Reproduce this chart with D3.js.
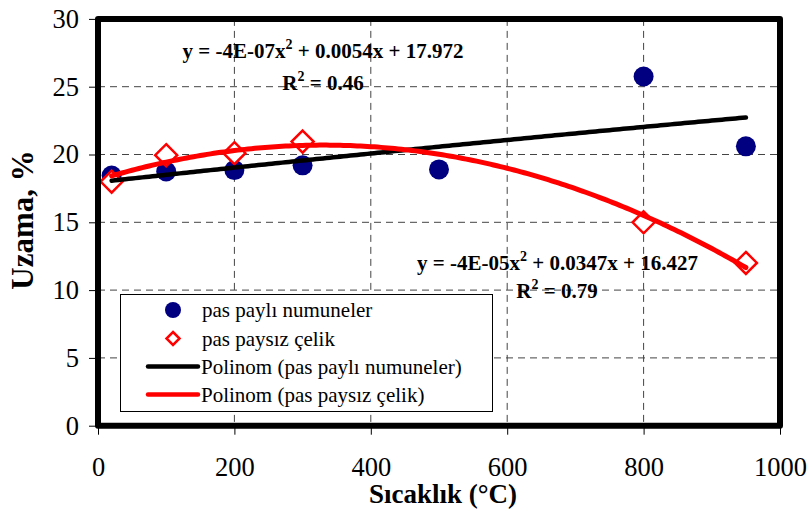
<!DOCTYPE html>
<html><head><meta charset="utf-8">
<script src="https://cdn.jsdelivr.net/npm/d3@7"></script>
<style>body{margin:0;background:#fff}svg{display:block}</style>
</head><body><svg id="c" width="811" height="515"></svg>
<script>
const xTicks = [0, 200, 400, 600, 800, 1000];
const yTicks = [0, 5, 10, 15, 20, 25, 30];
const paslıX = [20, 100, 200, 300, 500, 800, 950];
const paslıY = [18.45, 18.75, 18.85, 19.2, 18.9, 25.75, 20.6];
const celikX = [20, 100, 200, 300, 800, 950];
const celikY = [18.0, 19.95, 20.1, 20.95, 15.0, 12.0];
const seriesNames = ["pas paylı numuneler", "pas paysız çelik", "Polinom (pas paylı numuneler)", "Polinom (pas paysız çelik)"];
const eq1 = ["y = -4E-07x", "2", " + 0.0054x + 17.972"];
const r1 = ["R", "2", " = 0.46"];
const eq2 = ["y = -4E-05x", "2", " + 0.0347x + 16.427"];
const r2 = ["R", "2", " = 0.79"];

const FONT = "'Liberation Serif','Times New Roman','DejaVu Serif',serif";
const svg = d3.select("#c");
const x = d3.scaleLinear().domain([0, 1000]).range([98, 780]);
const y = d3.scaleLinear().domain([0, 30]).range([425.7, 18.9]);

// least-squares quadratic trendline
function quadFit(xs, ys) {
  let s = [0,0,0,0,0], t = [0,0,0];
  xs.forEach((xi, i) => {
    for (let k = 0; k < 5; k++) s[k] += Math.pow(xi, k);
    for (let k = 0; k < 3; k++) t[k] += Math.pow(xi, k) * ys[i];
  });
  const M = [[s[0], s[1], s[2], t[0]], [s[1], s[2], s[3], t[1]], [s[2], s[3], s[4], t[2]]];
  for (let i = 0; i < 3; i++) {
    for (let j = i + 1; j < 3; j++) {
      const f = M[j][i] / M[i][i];
      for (let k = i; k < 4; k++) M[j][k] -= f * M[i][k];
    }
  }
  const c = [0,0,0];
  for (let i = 2; i >= 0; i--) {
    let v = M[i][3];
    for (let k = i + 1; k < 3; k++) v -= M[i][k] * c[k];
    c[i] = v / M[i][i];
  }
  return xv => c[0] + c[1] * xv + c[2] * xv * xv;
}

// gridlines
const grid = svg.append("g").attr("stroke", "#444").attr("stroke-width", 1).attr("stroke-dasharray", "7,5");
grid.selectAll("line.v").data(xTicks.filter(d => d > 0 && d < 1000)).join("line")
  .attr("x1", d => x(d)).attr("x2", d => x(d)).attr("y1", y(30)).attr("y2", y(0));
grid.selectAll("line.h").data(yTicks.filter(d => d > 0 && d < 30)).join("line")
  .attr("y1", d => y(d)).attr("y2", d => y(d)).attr("x1", x(0)).attr("x2", x(1000));

// axes
const xAxis = svg.append("g").attr("transform", `translate(0,${y(0)})`)
  .call(d3.axisBottom(x).tickValues(xTicks).tickSize(9).tickPadding(22).tickFormat(d3.format("d")));
const yAxis = svg.append("g").attr("transform", `translate(${x(0)},0)`)
  .call(d3.axisLeft(y).tickValues(yTicks).tickSize(9).tickPadding(10).tickFormat(d3.format("d")));
[xAxis, yAxis].forEach(a => {
  a.attr("font-family", null);
  a.select(".domain").remove();
  a.selectAll(".tick line").attr("stroke", "#000");
  a.selectAll(".tick text").attr("fill", "#000").attr("font-size", 26.5).style("font-family", FONT);
});

// markers
svg.append("g").selectAll("circle").data(paslıX).join("circle")
  .attr("cx", d => x(d)).attr("cy", (d, i) => y(paslıY[i])).attr("r", 10).attr("fill", "#000080");
const dsz = 11;
svg.append("g").selectAll("path").data(celikX).join("path")
  .attr("d", (d, i) => { const cx = x(d), cy = y(celikY[i]); return `M${cx},${cy-dsz}L${cx+dsz},${cy}L${cx},${cy+dsz}L${cx-dsz},${cy}Z`; })
  .attr("fill", "#fff").attr("stroke", "#ff0000").attr("stroke-width", 2.5);

// trendlines
const f1 = quadFit(paslıX, paslıY), f2 = quadFit(celikX, celikY);
const xs = d3.range(20, 950.1, 5);
const line = d3.line().x(d => x(d[0])).y(d => y(d[1]));
svg.append("path").attr("d", line(xs.map(v => [v, f1(v)]))).attr("fill", "none").attr("stroke", "#000").attr("stroke-width", 4.5).attr("stroke-linecap", "round");
svg.append("path").attr("d", line(xs.map(v => [v, f2(v)]))).attr("fill", "none").attr("stroke", "#ff0000").attr("stroke-width", 5).attr("stroke-linecap", "round");

// frame
svg.append("rect").attr("x", x(0)).attr("y", y(30)).attr("width", x(1000) - x(0)).attr("height", y(0) - y(30))
  .attr("fill", "none").attr("stroke", "#000").attr("stroke-width", 6).attr("stroke-linejoin", "round");

// equations
function eq(parts, cx, by) {
  const t = svg.append("text").attr("x", cx).attr("y", by).attr("text-anchor", "middle")
    .style("font-family", FONT).attr("font-size", 21).attr("font-weight", "bold").attr("fill", "#000");
  t.append("tspan").text(parts[0]);
  t.append("tspan").attr("dy", -9).attr("font-size", 14).text(parts[1]);
  t.append("tspan").attr("dy", 9).text(parts[2]);
}
eq(eq1, 323, 58);
eq(r1, 323, 90);
eq(eq2, 557.5, 270);
eq(r2, 557, 298);

// legend
const lg = svg.append("g");
lg.append("rect").attr("x", 120.5).attr("y", 294.5).attr("width", 372).attr("height", 117).attr("fill", "#fff").attr("stroke", "#000").attr("stroke-width", 1);
const rowsY = [310, 338.5, 366.5, 394.5];
lg.append("circle").attr("cx", 173).attr("cy", rowsY[0]).attr("r", 8).attr("fill", "#000080");
lg.append("path").attr("d", `M173,${rowsY[1]-6.5}L179.5,${rowsY[1]}L173,${rowsY[1]+6.5}L166.5,${rowsY[1]}Z`).attr("fill", "#fff").attr("stroke", "#ff0000").attr("stroke-width", 2.5);
lg.append("line").attr("x1", 148).attr("x2", 198).attr("y1", rowsY[2]).attr("y2", rowsY[2]).attr("stroke", "#000").attr("stroke-width", 4.5).attr("stroke-linecap", "round");
lg.append("line").attr("x1", 148).attr("x2", 198).attr("y1", rowsY[3]).attr("y2", rowsY[3]).attr("stroke", "#ff0000").attr("stroke-width", 4.5).attr("stroke-linecap", "round");
lg.selectAll("text").data(seriesNames).join("text")
  .attr("x", (d, i) => i < 2 ? 202 : 201).attr("y", (d, i) => rowsY[i] + 7)
  .style("font-family", FONT).attr("font-size", 21).attr("fill", "#000").text(d => d);

// axis titles
svg.append("text").attr("x", 443).attr("y", 503).attr("text-anchor", "middle").style("font-family", FONT).attr("font-size", 27).attr("font-weight", "bold").text("Sıcaklık (°C)");
svg.append("text").attr("transform", "translate(33,220) rotate(-90)").attr("text-anchor", "middle").style("font-family", FONT).attr("font-size", 31).attr("font-weight", "bold").text("Uzama, %");
</script></body></html>
